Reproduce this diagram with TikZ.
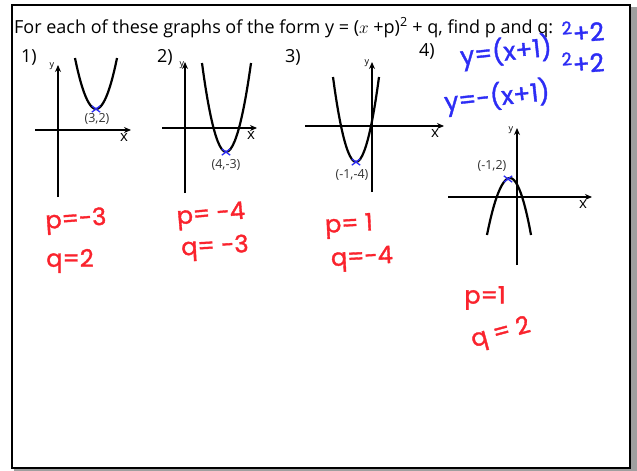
\documentclass[tikz,border=0pt]{standalone}
\usepackage{fontspec}
\setmainfont{Open Sans}
\newfontfamily\hand[FakeBold=1.5]{Poppins}
\usetikzlibrary{arrows.meta,shapes.misc}
\definecolor{inkred}{RGB}{250,35,45}
\definecolor{inkblue}{RGB}{45,45,245}
\begin{document}
\begin{tikzpicture}[x=1pt,y=-1pt,
  axis/.style={line width=1.8pt,-{Stealth[length=7pt,width=6pt]}},
  curve/.style={line width=2.2pt},
  vmark/.style={cross out,draw=inkblue,line width=1.3pt,minimum width=7pt,minimum height=5pt,inner sep=0pt},
  numlab/.style={font=\fontsize{18}{18}\selectfont,inner sep=0pt},
  ylab/.style={font=\fontsize{9}{9}\selectfont,inner sep=0pt},
  xlab/.style={font=\fontsize{15}{15}\selectfont,inner sep=0pt},
  ptlab/.style={font=\fontsize{12.5}{12.5}\selectfont,inner sep=0pt,text=black!80},
  redhand/.style={font=\hand\fontsize{24}{24}\selectfont,text=inkred,inner sep=0pt},
  bluehand/.style={font=\hand\fontsize{25}{25}\selectfont,text=inkblue,inner sep=0pt}]
\useasboundingbox (0,0) rectangle (637,471);
\fill[white] (0,0) rectangle (637,471);
% frame and shadow
\fill[gray!75] (630,7) rectangle (637,471);
\fill[gray!75] (14,468) rectangle (637,471);
\draw[line width=2pt] (12,5) rectangle (630,468);
% title
\node[anchor=base west,inner sep=0pt,font=\fontsize{18}{20}\selectfont] (title) at (14,33)
  {For each of these graphs of the form y = ($x$ +p)\textsuperscript{2} + q, find p and q:};
% ---- graph 1
\node[numlab] (n1) at (29,57) {1)};
\coordinate (a1l) at (35,130); \coordinate (a1r) at (131,130);
\coordinate (a1b) at (58,197); \coordinate (a1t) at (58,65);
\draw[axis] (a1l) -- (a1r);
\draw[axis] (a1b) -- (a1t);
\node[ylab] (y1) at (52,66) {y};
\node[xlab] (x1) at (124,137) {x};
\coordinate (p1a) at (75,58); \coordinate (v1) at (96,109); \coordinate (p1b) at (117,58);
\draw[curve] (p1a) parabola bend (v1) (p1b);
\node[vmark] (m1) at (v1) {};
\node[ptlab] (l1) at (97,119) {(3,2)};
\node[redhand,rotate=4] (r1p) at (76,221) {p=-3};
\node[redhand] (r1q) at (70,261) {q=2};
% ---- graph 2
\node[numlab] (n2) at (165,57) {2)};
\coordinate (a2l) at (162,128); \coordinate (a2r) at (257,128);
\coordinate (a2b) at (185,193); \coordinate (a2t) at (185,62);
\draw[axis] (a2l) -- (a2r);
\draw[axis] (a2b) -- (a2t);
\node[ylab] (y2) at (182,65) {y};
\node[xlab] (x2) at (251,135) {x};
\coordinate (p2a) at (202,63); \coordinate (v2) at (226,152); \coordinate (p2b) at (251,63);
\draw[curve] (p2a) parabola bend (v2) (p2b);
\node[vmark] (m2) at (v2) {};
\node[ptlab] (l2) at (226,165) {(4,-3)};
\node[redhand,rotate=5] (r2p) at (211,216) {p= -4};
\node[redhand,rotate=3] (r2q) at (215,248) {q= -3};
% ---- graph 3
\node[numlab] (n3) at (293,57) {3)};
\coordinate (a3l) at (305,126); \coordinate (a3r) at (444,126);
\coordinate (a3b) at (372,192); \coordinate (a3t) at (372,62);
\draw[axis] (a3l) -- (a3r);
\draw[axis] (a3b) -- (a3t);
\node[ylab] (y3) at (367,63) {y};
\node[xlab] (x3) at (435,133) {x};
\coordinate (p3a) at (333,77); \coordinate (v3) at (356,162); \coordinate (p3b) at (379,77);
\draw[curve] (p3a) parabola bend (v3) (p3b);
\node[vmark] (m3) at (v3) {};
\node[ptlab] (l3) at (352,175) {(-1,-4)};
\node[redhand,rotate=3] (r3p) at (349,226) {p= 1};
\node[redhand,rotate=3] (r3q) at (362,259) {q=-4};
% ---- graph 4
\node[numlab] (n4) at (427,51) {4)};
\coordinate (a4l) at (448,197); \coordinate (a4r) at (592,197);
\coordinate (a4b) at (517,265); \coordinate (a4t) at (517,128);
\draw[axis] (a4l) -- (a4r);
\draw[axis] (a4b) -- (a4t);
\node[ylab] (y4) at (511,130) {y};
\node[xlab] (x4) at (583,204) {x};
\coordinate (p4a) at (487,235); \coordinate (v4) at (510,178); \coordinate (p4b) at (531,235);
\draw[curve] (p4a) parabola bend (v4) (p4b);
\node[vmark] (m4) at (508,179) {};
\node[ptlab] (l4) at (492,166) {(-1,2)};
\node[redhand] (r4p) at (485,298) {p=1};
\node[redhand,rotate=15] (r4q) at (501,334) {q = 2};
% blue handwriting
\node[bluehand,rotate=6] (b1) at (506,52) {y=(x+1)};
\node[bluehand,rotate=5] (b1e) at (583,31) {\textsuperscript{2}+2};
\node[bluehand,rotate=6] (b2) at (497,97) {y=-(x+1)};
\node[bluehand,rotate=5] (b2e) at (583,62) {\textsuperscript{2}+2};
\end{tikzpicture}
\end{document}
